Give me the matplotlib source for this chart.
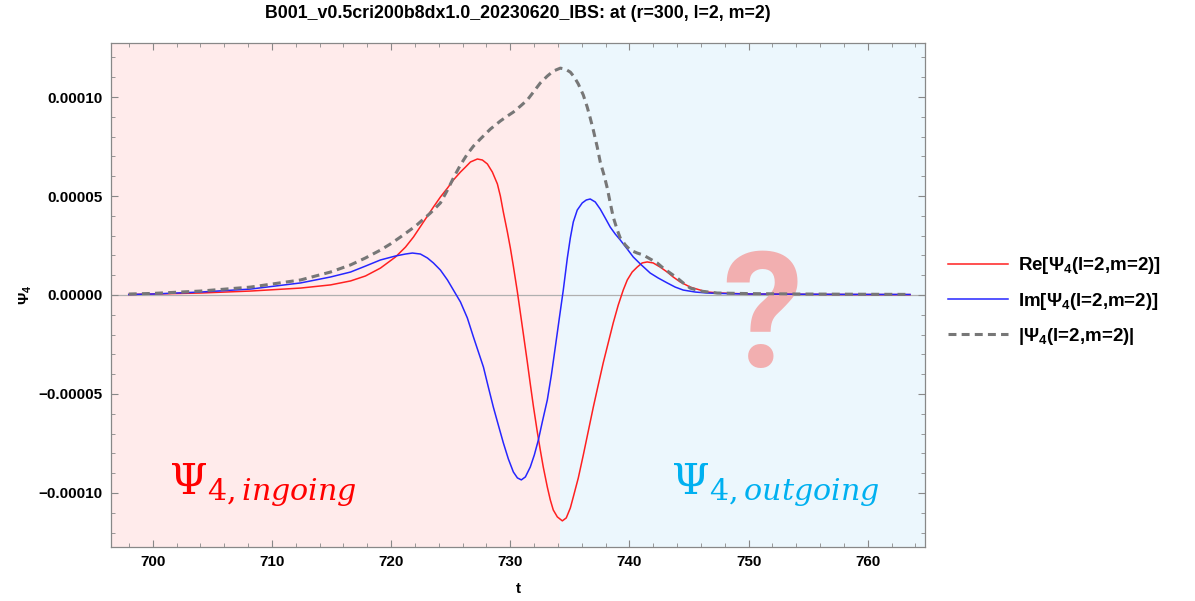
import matplotlib

matplotlib.use("Agg")
import matplotlib.pyplot as plt
from matplotlib.ticker import MultipleLocator, FuncFormatter

# values, in units of 1e-5
SCALE = 1e-5

re_t = [697.99, 700.0, 704.02, 708.21, 712.41, 714.92, 716.60, 717.85, 719.11, 720.37,
        721.21, 721.88, 722.72, 723.55, 724.14, 724.73, 725.23, 725.82, 726.24, 726.66,
        727.24, 727.66, 728.08, 728.50, 728.92, 729.17, 729.42, 729.76, 730.01, 730.26,
        730.60, 730.85, 731.10, 731.43, 731.68, 731.94, 732.27, 732.52, 732.77, 733.11,
        733.36, 733.61, 733.95, 734.37, 734.70, 735.04, 735.29, 735.71, 736.13, 736.55,
        736.97, 737.38, 737.80, 738.22, 738.64, 739.06, 739.48, 739.82, 740.23, 740.65,
        741.07, 741.49, 741.99, 742.58, 743.17, 743.67, 744.26, 745.10, 745.93, 746.52,
        747.61, 750.13, 754.32, 758.51, 763.54]
re_v = [0.025, 0.05, 0.10, 0.20, 0.35, 0.51, 0.71, 0.96, 1.36, 1.92,
        2.42, 2.93, 3.69, 4.44, 4.95, 5.40, 5.81, 6.21, 6.46, 6.72,
        6.87, 6.82, 6.62, 6.21, 5.61, 5.00, 4.19, 3.18, 2.37, 1.46,
        0.15, -0.91, -1.97, -3.38, -4.49, -5.61, -6.92, -7.83, -8.69, -9.70,
        -10.35, -10.86, -11.21, -11.41, -11.26, -10.76, -10.20, -9.24, -8.08, -6.87,
        -5.66, -4.55, -3.43, -2.42, -1.41, -0.51, 0.25, 0.76, 1.16, 1.41,
        1.62, 1.67, 1.62, 1.41, 1.16, 0.91, 0.66, 0.40, 0.25, 0.15,
        0.10, 0.05, 0.035, 0.025, 0.02]

im_t = [697.99, 700.0, 704.02, 708.21, 712.41, 714.92, 716.60, 717.85, 719.11, 720.37,
        721.21, 721.79, 722.46, 723.05, 723.55, 724.14, 724.73, 725.23, 725.82, 726.40,
        726.91, 727.33, 727.75, 728.16, 728.58, 729.00, 729.42, 729.84, 730.26, 730.60,
        730.93, 731.27, 731.68, 732.02, 732.36, 732.69, 733.11, 733.45, 733.78, 734.12,
        734.45, 734.79, 735.04, 735.29, 735.62, 736.04, 736.38, 736.71, 737.13, 737.55,
        737.97, 738.39, 738.81, 739.23, 739.82, 740.32, 740.91, 741.74, 742.41, 743.17,
        743.84, 744.51, 745.52, 746.52, 748.45, 750.13, 754.32, 758.51, 763.54]
im_v = [0.025, 0.05, 0.15, 0.30, 0.61, 0.91, 1.16, 1.46, 1.77, 1.97,
        2.07, 2.12, 2.07, 1.87, 1.62, 1.26, 0.76, 0.25, -0.35, -1.16,
        -2.12, -2.88, -3.64, -4.65, -5.66, -6.57, -7.47, -8.28, -8.94, -9.24,
        -9.34, -9.19, -8.69, -8.08, -7.32, -6.41, -5.30, -4.04, -2.63, -1.16,
        0.25, 1.87, 2.88, 3.69, 4.29, 4.65, 4.80, 4.85, 4.70, 4.34,
        3.89, 3.43, 3.08, 2.78, 2.32, 1.92, 1.57, 1.11, 0.86, 0.61,
        0.40, 0.25, 0.15, 0.10, 0.066, 0.05, 0.04, 0.03, 0.025]

abs_t = [697.99, 700.0, 704.02, 708.21, 712.41, 714.92, 716.60, 717.85, 719.11, 719.95,
         720.79, 722.05, 723.30, 724.14, 724.73, 725.23, 725.82, 726.40, 726.91, 727.49,
         728.33, 729.17, 729.76, 730.26, 730.85, 731.43, 731.94, 732.52, 733.11, 733.61,
         734.20, 734.62, 735.04, 735.37, 735.71, 736.13, 736.46, 736.71, 736.97, 737.30,
         737.55, 737.89, 738.14, 738.39, 738.64, 738.98, 739.23, 739.65, 740.07, 740.65,
         741.16, 741.74, 742.33, 742.83, 743.42, 744.01, 744.51, 745.10, 745.93, 747.36,
         750.13, 754.32, 758.51, 763.54]
abs_v = [0.05, 0.08, 0.20, 0.40, 0.76, 1.16, 1.52, 1.87, 2.27, 2.58,
         2.93, 3.48, 4.14, 4.65, 5.30, 5.91, 6.57, 7.12, 7.52, 7.88,
         8.38, 8.79, 9.04, 9.24, 9.54, 9.85, 10.25, 10.71, 11.06, 11.31,
         11.46, 11.41, 11.26, 11.01, 10.66, 10.10, 9.49, 8.94, 8.33, 7.47,
         6.72, 6.01, 5.40, 4.65, 3.94, 3.28, 2.88, 2.53, 2.27, 2.12,
         2.02, 1.82, 1.62, 1.36, 1.11, 0.86, 0.61, 0.35, 0.20, 0.10,
         0.07, 0.05, 0.04, 0.03]

T_SPLIT = 734.2
XLIM = (696.5, 764.8)
YLIM = (-12.73 * SCALE, 12.73 * SCALE)

TITLE = "B001_v0.5cri200b8dx1.0_20230620_IBS: at (r=300, l=2, m=2)"
LABELS = ["Re[Ψ$_4$(l=2,m=2)]", "Im[Ψ$_4$(l=2,m=2)]", "|Ψ$_4$(l=2,m=2)|"]

plt.rcParams["font.family"] = ["Liberation Sans", "DejaVu Sans"]
plt.rcParams["mathtext.fontset"] = "custom"
plt.rcParams["mathtext.rm"] = "Liberation Sans:bold"
plt.rcParams["mathtext.default"] = "rm"

fig = plt.figure(figsize=(11.95, 6.01), dpi=100)
ax = fig.add_axes([111 / 1195, 1 - 547 / 601, (925 - 111) / 1195, (547 - 43) / 601])

ax.axvspan(XLIM[0], T_SPLIT, color="#FFEBEB", lw=0, zorder=0)
ax.axvspan(T_SPLIT, XLIM[1], color="#ECF7FD", lw=0, zorder=0)
ax.axhline(0, color="#B0B0B0", lw=0.9, zorder=1)

ax.text(751.2, -3.64 * SCALE, "?", color="#F2AFB0", fontsize=116, family="Roboto",
        fontweight="bold", ha="center", va="baseline", zorder=1)

ax.plot(re_t, [v * SCALE for v in re_v], color="#FF2020", lw=1.1, label=LABELS[0], zorder=3)
ax.plot(im_t, [v * SCALE for v in im_v], color="#2626FF", lw=1.1, label=LABELS[1], zorder=3)
ax.plot(abs_t, [v * SCALE for v in abs_v], color="#777777", lw=2.2,
        dashes=(2.6, 1.7), label=LABELS[2], zorder=4)

ax.text(701.4, -10.0 * SCALE, r"$\Psi_{4,\mathit{ingoing}}$", color="#FF0000",
        fontsize=31, math_fontfamily="dejavuserif", ha="left", va="baseline")
ax.text(743.5, -10.0 * SCALE, r"$\Psi_{4,\mathit{outgoing}}$", color="#00B0F0",
        fontsize=31, math_fontfamily="dejavuserif", ha="left", va="baseline")

ax.set_xlim(*XLIM)
ax.set_ylim(*YLIM)
ax.xaxis.set_major_locator(MultipleLocator(10))
ax.xaxis.set_minor_locator(MultipleLocator(2))
ax.yaxis.set_major_locator(MultipleLocator(5 * SCALE))
ax.yaxis.set_minor_locator(MultipleLocator(1 * SCALE))
ax.yaxis.set_major_formatter(FuncFormatter(lambda v, _: f"{v:.5f}".replace("-", "\u2212")))
ax.tick_params(which="both", direction="in", top=True, right=True, color="#888888")
ax.tick_params(axis="y", labelsize=11, pad=6)
ax.tick_params(axis="x", labelsize=11, pad=6)
ax.tick_params(which="major", length=5)
ax.tick_params(which="minor", length=3)
for lab in ax.get_xticklabels() + ax.get_yticklabels():
    lab.set_fontweight("bold")
for s in ax.spines.values():
    s.set_color("#888888")
    s.set_linewidth(0.9)

ax.set_xlabel("t", fontsize=11, fontweight="bold", labelpad=9)
ax.set_ylabel("Ψ$_4$", fontsize=11, fontweight="bold", labelpad=3)
fig.suptitle(TITLE, x=518 / 1195, y=1 - 5 / 601, va="top", fontsize=12.8, fontweight="bold")

fig.legend(loc="center left", bbox_to_anchor=(948 / 1195, 1 - 301 / 601), frameon=False,
           prop={"size": 13.5, "weight": "bold"}, handlelength=3.2, handletextpad=0.55,
           labelspacing=0.75, borderaxespad=0, borderpad=0)

fig.savefig("out.png", dpi=100)
